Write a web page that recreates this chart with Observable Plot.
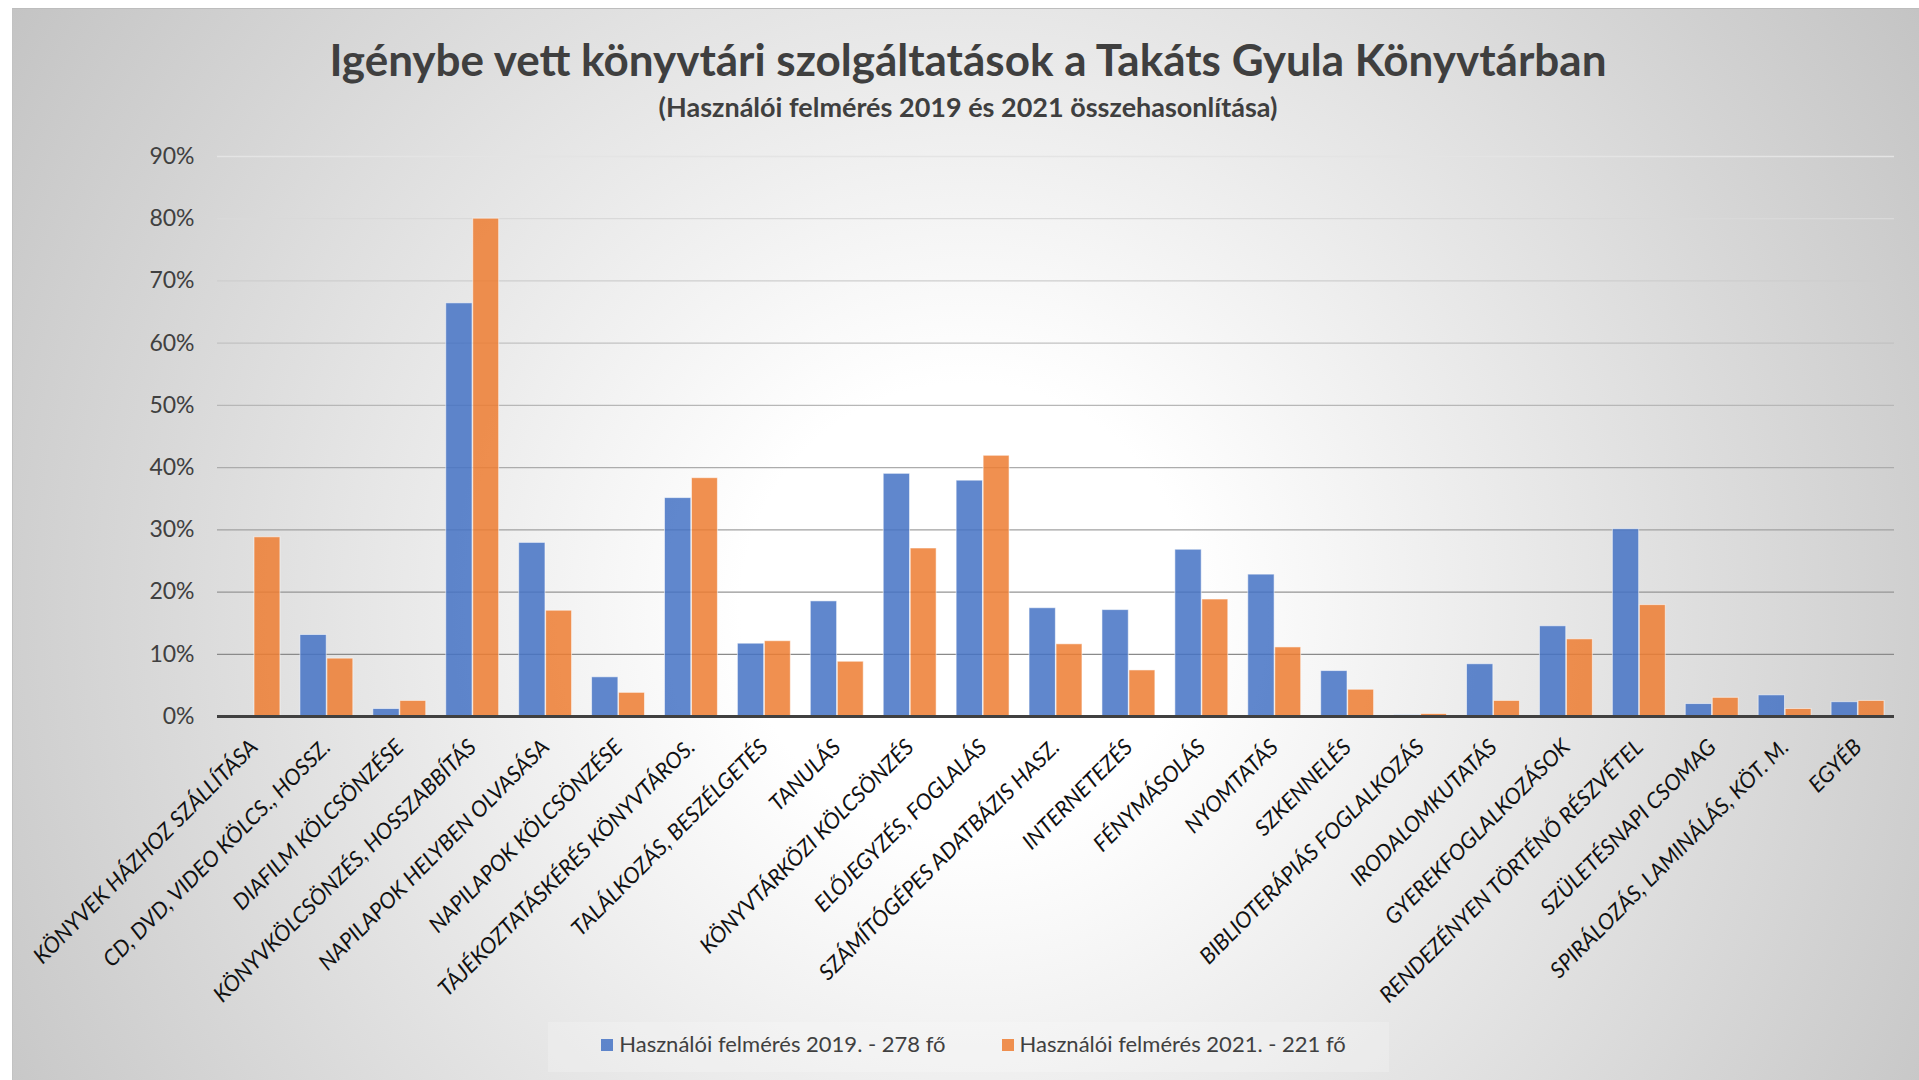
<!DOCTYPE html>
<html>
<head>
<meta charset="utf-8">
<script src="https://cdn.jsdelivr.net/npm/d3@7"></script>
<script src="https://cdn.jsdelivr.net/npm/@observablehq/plot@0.6"></script>
<style>
  html, body { margin: 0; padding: 0; background: #ffffff; }
  body { width: 1919px; height: 1080px; position: relative; overflow: hidden; font-family: Lato, "Open Sans", sans-serif; }
  #bg { position: absolute; left: 12px; top: 8px; width: 1907px; height: 1072px; box-sizing: border-box;
        border-top: 1px solid #bdbdbd; border-left: 1px solid #c2c2c2;
        background: radial-gradient(circle farthest-corner at 50% 56%, #ffffff 0%, #ffffff 20%, #c4c4c4 100%); }
  #title { position: absolute; left: 0; width: 1936px; top: 36.8px; line-height: 44px; text-align: center;
           font-weight: 700; font-size: 44px; color: #3f3f3f; white-space: nowrap; }
  #subtitle { position: absolute; left: 0; width: 1936px; top: 93.2px; line-height: 27px; text-align: center;
              font-weight: 700; font-size: 27px; color: #3f3f3f; white-space: nowrap; }
  #legendbox { position: absolute; left: 548px; top: 1022px; width: 841px; height: 50px; background: rgba(255,255,255,0.2); }
  #legend { position: absolute; left: 0; width: 1947px; top: 1033.3px; line-height: 22px; font-size: 22px; color: #404040;
            display: flex; justify-content: center; white-space: nowrap; }
  .item { display: flex; align-items: center; }
  .item + .item { margin-left: 56px; }
  .sw { display: inline-block; width: 12px; height: 12px; margin-right: 6px; margin-top: 1px; }
  #chart { position: absolute; left: 137px; top: 136px; }
</style>
</head>
<body>
<div id="bg"></div>
<div id="title"></div>
<div id="subtitle"></div>
<div id="legendbox"></div>
<div id="legend"></div>
<div id="chart"></div>
<script>
const titleText = "Igénybe vett könyvtári szolgáltatások a Takáts Gyula Könyvtárban";
const subtitleText = "(Használói felmérés 2019 és 2021 összehasonlítása)";

const categories = [
  "KÖNYVEK HÁZHOZ SZÁLLÍTÁSA",
  "CD, DVD, VIDEO KÖLCS., HOSSZ.",
  "DIAFILM KÖLCSÖNZÉSE",
  "KÖNYVKÖLCSÖNZÉS, HOSSZABBÍTÁS",
  "NAPILAPOK HELYBEN OLVASÁSA",
  "NAPILAPOK KÖLCSÖNZÉSE",
  "TÁJÉKOZTATÁSKÉRÉS KÖNYVTÁROS.",
  "TALÁLKOZÁS, BESZÉLGETÉS",
  "TANULÁS",
  "KÖNYVTÁRKÖZI KÖLCSÖNZÉS",
  "ELŐJEGYZÉS, FOGLALÁS",
  "SZÁMÍTÓGÉPES ADATBÁZIS HASZ.",
  "INTERNETEZÉS",
  "FÉNYMÁSOLÁS",
  "NYOMTATÁS",
  "SZKENNELÉS",
  "BIBLIOTERÁPIÁS FOGLALKOZÁS",
  "IRODALOMKUTATÁS",
  "GYEREKFOGLALKOZÁSOK",
  "RENDEZÉNYEN TÖRTÉNŐ RÉSZVÉTEL",
  "SZÜLETÉSNAPI CSOMAG",
  "SPIRÁLOZÁS, LAMINÁLÁS, KÖT. M.",
  "EGYÉB"
];

const seriesNames = ["Használói felmérés 2019. - 278 fő", "Használói felmérés 2021. - 221 fő"];

// percent values
const values2019 = [0, 13.1, 1.2, 66.4, 27.9, 6.3, 35.1, 11.7, 18.5, 39.0, 37.9, 17.4, 17.1, 26.8, 22.8, 7.3, 0.2, 8.4, 14.5, 30.1, 2.0, 3.4, 2.3];
const values2021 = [28.8, 9.3, 2.5, 80.0, 17.0, 3.8, 38.3, 12.1, 8.8, 27.0, 41.9, 11.6, 7.4, 18.8, 11.1, 4.3, 0.4, 2.5, 12.4, 17.9, 3.0, 1.2, 2.5];

const yTicks = [0, 10, 20, 30, 40, 50, 60, 70, 80, 90];
const seriesColors = ["#4472C4", "#ED7D31"];

document.getElementById("title").textContent = titleText;
document.getElementById("subtitle").textContent = subtitleText;

const legend = document.getElementById("legend");
seriesNames.forEach((name, i) => {
  const item = document.createElement("div");
  item.className = "item";
  const sw = document.createElement("span");
  sw.className = "sw";
  sw.style.background = seriesColors[i];
  sw.style.opacity = 0.85;
  const t = document.createElement("span");
  t.textContent = name;
  item.appendChild(sw);
  item.appendChild(t);
  legend.appendChild(item);
});

const rows = categories.map((c, i) => ({cat: c, v19: values2019[i], v21: values2021[i]}));
const gridColor = d3.interpolateRgb("#8a8a8a", "#e4e4e4");

const chart = Plot.plot({
  width: 1767,
  height: 880,
  marginLeft: 80,
  marginRight: 10,
  marginTop: 20,
  marginBottom: 300,
  style: {background: "transparent", overflow: "visible", fontFamily: "Lato, sans-serif"},
  x: {domain: categories, padding: 0, round: false, axis: null},
  y: {domain: [0, 90], axis: null},
  marks: [
    ...yTicks.filter(t => t > 0).map(t => Plot.ruleY([t], {stroke: gridColor((t - 10) / 80), strokeWidth: 1.3})),
    Plot.barY(rows, {x: "cat", y: "v19", fill: seriesColors[0], fillOpacity: 0.85, stroke: "#ffffff", strokeOpacity: 0.55, strokeWidth: 1, insetLeft: 10, insetRight: 36.6}),
    Plot.barY(rows, {x: "cat", y: "v21", fill: seriesColors[1], fillOpacity: 0.85, stroke: "#ffffff", strokeOpacity: 0.55, strokeWidth: 1, insetLeft: 37, insetRight: 10}),
    Plot.ruleY([0], {stroke: "#404040", strokeWidth: 3}),
    Plot.text(yTicks, {y: d => d, text: d => d + "%", frameAnchor: "left", textAnchor: "end", dx: -23, fontSize: 23, fill: "#404040"}),
    Plot.text(categories, {x: d => d, text: d => d, frameAnchor: "bottom", rotate: -45, textAnchor: "end", dx: 5, dy: 32, fontSize: 22, fontStyle: "italic", fill: "#111111"})
  ]
});
document.getElementById("chart").appendChild(chart);
</script>
</body>
</html>
